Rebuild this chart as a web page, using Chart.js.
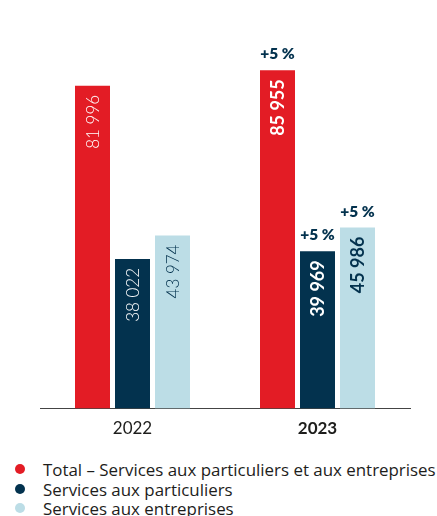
<!DOCTYPE html>
<html>
<head>
<meta charset="utf-8">
<script src="https://cdn.jsdelivr.net/npm/chart.js@4"></script>
<style>
    html, body { margin: 0; padding: 0; background: #fff; overflow: hidden; }
    body { width: 437px; height: 516px; position: relative; font-family: Lato, sans-serif; }
    #wrap { position: absolute; left: 0; top: 0; width: 437px; height: 450px; }
    #legend { position: absolute; left: 0; top: 460px; width: 437px; white-space: nowrap; }
    .item { position: relative; height: 19.7px; line-height: 19.7px; font-family: 'Open Sans', sans-serif; font-size: 16.9px; color: #1d1d1b; padding-left: 43px; }
    .dot { position: absolute; left: 15px; top: 4px; width: 10px; height: 10px; border-radius: 50%; }
</style>
</head>
<body>
<div id="wrap"><canvas id="chart"></canvas></div>
<div id="legend"></div>
<script>
// Data
const years = ['2022', '2023'];
const seriesNames = [
    'Total – Services aux particuliers et aux entreprises',
    'Services aux particuliers',
    'Services aux entreprises'
];
const totalValues = [81996, 85955];
const particuliersValues = [38022, 39969];
const entreprisesValues = [43974, 45986];
// growth vs previous year, shown above the 2023 bars
const totalGrowth = [null, '+5 %'];
const particuliersGrowth = [null, '+5 %'];
const entreprisesGrowth = [null, '+5 %'];

const RED = '#e31c25';
const NAVY = '#03324e';
const LIGHT = '#bcdde6';

function formatNumber(v) {
    return String(v).replace(/\B(?=(\d{3})+(?!\d))/g, ' ');
}

// draws the rotated value inside each bar and the growth label above it
const barLabels = {
    id: 'barLabels',
    afterDatasetsDraw(chart) {
        const ctx = chart.ctx;
        chart.data.datasets.forEach((ds, i) => {
            const meta = chart.getDatasetMeta(i);
            meta.data.forEach((bar, j) => {
                const bold = j === 1;
                ctx.save();
                ctx.translate(bar.x, bar.y + 9);
                ctx.rotate(-Math.PI / 2);
                ctx.font = (bold ? '700 18px' : '300 17px') + ' Lato, sans-serif';
                ctx.fillStyle = ds.labelColor;
                ctx.textAlign = 'right';
                ctx.textBaseline = 'middle';
                ctx.fillText(formatNumber(ds.data[j]), 0, 1);
                ctx.restore();

                const g = ds.growth[j];
                if (g) {
                    ctx.save();
                    ctx.font = '800 15.5px Lato, sans-serif';
                    ctx.fillStyle = NAVY;
                    ctx.textAlign = 'center';
                    ctx.textBaseline = 'alphabetic';
                    ctx.fillText(g, bar.x, bar.y - 11);
                    ctx.restore();
                }
            });
        });
    }
};

const datasets = [
    { label: seriesNames[0], data: totalValues, backgroundColor: RED, labelColor: '#ffffff', growth: totalGrowth },
    { label: seriesNames[1], data: particuliersValues, backgroundColor: NAVY, labelColor: '#ffffff', growth: particuliersGrowth },
    { label: seriesNames[2], data: entreprisesValues, backgroundColor: LIGHT, labelColor: NAVY, growth: entreprisesGrowth }
];

new Chart(document.getElementById('chart'), {
    type: 'bar',
    data: {
        labels: years,
        datasets: datasets.map(d => Object.assign({
            borderWidth: 0,
            categoryPercentage: 0.6486,
            barPercentage: 0.875
        }, d))
    },
    options: {
        responsive: true,
        maintainAspectRatio: false,
        animation: false,
        layout: { padding: { left: 40, right: 27, top: 15, bottom: 1 } },
        plugins: {
            legend: { display: false },
            tooltip: { enabled: false }
        },
        scales: {
            y: { display: false, min: 0, max: 100000 },
            x: {
                grid: { display: false, drawTicks: false },
                border: { display: true, color: '#444444', width: 1 },
                ticks: {
                    padding: 10,
                    color: '#1d1d1b',
                    font: c => ({ family: 'Lato, sans-serif', size: 17, weight: c.index === 1 ? 'bold' : 'normal' })
                }
            }
        }
    },
    plugins: [barLabels]
});

// legend
const legend = document.getElementById('legend');
datasets.forEach(d => {
    const row = document.createElement('div');
    row.className = 'item';
    const dot = document.createElement('span');
    dot.className = 'dot';
    dot.style.background = d.backgroundColor;
    row.appendChild(dot);
    row.appendChild(document.createTextNode(d.label));
    legend.appendChild(row);
});
</script>
</body>
</html>
